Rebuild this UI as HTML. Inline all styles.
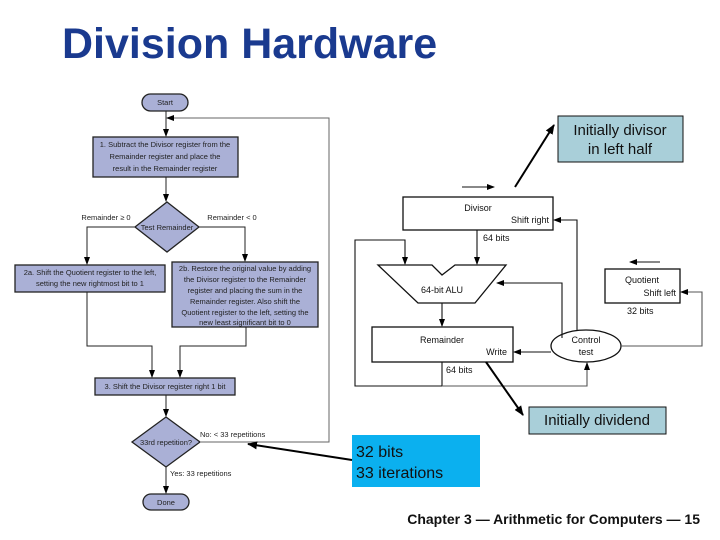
<!DOCTYPE html>
<html><head><meta charset="utf-8"><style>
body{margin:0;background:#fff;}
svg{display:block;}
</style></head><body>
<svg width="720" height="540" xmlns="http://www.w3.org/2000/svg" font-family="Liberation Sans, sans-serif">
<defs>
<marker id="a" markerWidth="8" markerHeight="8" refX="7" refY="4" orient="auto" markerUnits="userSpaceOnUse"><path d="M0,1 L8,4 L0,7 z" fill="#000"/></marker>
<marker id="b" markerWidth="10" markerHeight="10" refX="9" refY="5" orient="auto" markerUnits="userSpaceOnUse"><path d="M0,1 L10,5 L0,9 z" fill="#000"/></marker>
</defs>
<text x="62" y="58" font-size="43" font-weight="bold" fill="#1a3a8f">Division Hardware</text>

<!-- Flowchart -->
<g stroke="#222" stroke-width="1.3" fill="#aab0d6">
<rect x="142" y="94" width="46" height="17" rx="8.5"/>
<rect x="93" y="137" width="145" height="40"/>
<polygon points="167,202 199,227 167,252 135,227"/>
<rect x="15" y="265" width="150" height="27"/>
<rect x="172" y="262" width="146" height="65"/>
<rect x="95" y="378" width="140" height="17"/>
<polygon points="166,417 200,442 166,467 132,442"/>
<rect x="143" y="494" width="46" height="16" rx="8"/>
</g>
<g stroke="#222" stroke-width="1" fill="none">
<line x1="166" y1="111" x2="166" y2="136" marker-end="url(#a)"/>
<line x1="166" y1="177" x2="166" y2="201" marker-end="url(#a)"/>
<polyline points="135,227 87,227 87,264" marker-end="url(#a)"/>
<polyline points="199,227 245,227 245,261" marker-end="url(#a)"/>
<polyline points="87,292 87,346 152,346 152,377" marker-end="url(#a)"/>
<polyline points="246,327 246,346 180,346 180,377" marker-end="url(#a)"/>
<line x1="166" y1="395" x2="166" y2="416" marker-end="url(#a)"/>
<line x1="166" y1="467" x2="166" y2="493" marker-end="url(#a)"/>
<polyline points="200,442 329,442 329,118 167,118" stroke="#666" marker-end="url(#a)"/>
</g>
<g font-size="7.5" fill="#222" text-anchor="middle">
<text x="165" y="105">Start</text>
<text x="165" y="147">1.  Subtract the Divisor register from the</text>
<text x="165" y="159">Remainder register and place the</text>
<text x="165" y="171">result in the Remainder register</text>
<text x="167" y="230">Test Remainder</text>
<text x="106" y="220">Remainder ≥ 0</text>
<text x="232" y="220">Remainder &lt; 0</text>
<text x="90" y="275">2a.  Shift the Quotient register to the left,</text>
<text x="90" y="286">setting the new rightmost bit to 1</text>
<text x="245" y="271">2b.  Restore the original value by adding</text>
<text x="245" y="282">the Divisor register to the Remainder</text>
<text x="245" y="293">register and placing the sum in the</text>
<text x="245" y="304">Remainder register. Also shift the</text>
<text x="245" y="315">Quotient register to the left, setting the</text>
<text x="245" y="325">new least significant bit to 0</text>
<text x="165" y="389">3.  Shift the Divisor register right 1 bit</text>
<text x="166" y="445">33rd repetition?</text>
<text x="166" y="505">Done</text>
</g>
<g font-size="7.5" fill="#222">
<text x="200" y="437">No: &lt; 33 repetitions</text>
<text x="170" y="476">Yes: 33 repetitions</text>
</g>

<!-- Hardware -->
<g stroke="#111" stroke-width="1.3" fill="#fff">
<rect x="403" y="197" width="150" height="33"/>
<polygon points="378,265 432,265 442,275 455,265 506,265 475,303 418,303"/>
<rect x="372" y="327" width="141" height="35"/>
<ellipse cx="586" cy="346" rx="35" ry="16"/>
<rect x="605" y="269" width="75" height="34"/>
</g>
<g stroke="#111" stroke-width="1.1" fill="none">
<polyline points="442,362 442,386 355,386 355,240 405,240 405,264" marker-end="url(#a)"/>
<line x1="477" y1="230" x2="477" y2="264" marker-end="url(#a)"/>
<line x1="442" y1="303" x2="442" y2="326" marker-end="url(#a)"/>
<polyline points="442,386 587,386 587,363" stroke="#555" marker-end="url(#a)"/>
<polyline points="577,330 577,220 554,220" marker-end="url(#a)"/>
<polyline points="562,338 562,283 497,283" marker-end="url(#a)"/>
<line x1="551" y1="352" x2="514" y2="352" marker-end="url(#a)"/>
<polyline points="621,346 702,346 702,292 681,292" stroke="#555" marker-end="url(#a)"/>
<line x1="462" y1="187" x2="494" y2="187" marker-end="url(#a)"/>
<line x1="660" y1="262" x2="630" y2="262" marker-end="url(#a)"/>
</g>
<g font-size="9" fill="#111">
<text x="478" y="211" text-anchor="middle">Divisor</text>
<text x="549" y="223" text-anchor="end">Shift right</text>
<text x="483" y="241">64 bits</text>
<text x="442" y="293" text-anchor="middle">64-bit ALU</text>
<text x="442" y="343" text-anchor="middle">Remainder</text>
<text x="507" y="355" text-anchor="end">Write</text>
<text x="446" y="373">64 bits</text>
<text x="586" y="343" text-anchor="middle">Control</text>
<text x="586" y="355" text-anchor="middle">test</text>
<text x="642" y="283" text-anchor="middle">Quotient</text>
<text x="676" y="296" text-anchor="end">Shift left</text>
<text x="627" y="314">32 bits</text>
</g>

<!-- Callouts -->
<rect x="558" y="116" width="125" height="46" fill="#a9cfd9" stroke="#111"/>
<text x="620" y="135" font-size="15" text-anchor="middle" fill="#111">Initially divisor</text>
<text x="620" y="154" font-size="15" text-anchor="middle" fill="#111">in left half</text>
<line x1="515" y1="187" x2="554" y2="125" stroke="#000" stroke-width="2" marker-end="url(#b)"/>
<rect x="529" y="407" width="137" height="27" fill="#a9cfd9" stroke="#111"/>
<text x="597" y="425" font-size="15" text-anchor="middle" fill="#111">Initially dividend</text>
<line x1="486" y1="362" x2="523" y2="415" stroke="#000" stroke-width="2" marker-end="url(#b)"/>
<rect x="352" y="435" width="128" height="52" fill="#0bb0ef"/>
<text x="356" y="457" font-size="16" fill="#111">32 bits</text>
<text x="356" y="478" font-size="16" fill="#111">33 iterations</text>
<line x1="352" y1="460" x2="248" y2="444" stroke="#000" stroke-width="2" marker-end="url(#b)"/>

<text x="700" y="524" font-size="14" font-weight="bold" text-anchor="end" fill="#111">Chapter 3 — Arithmetic for Computers — 15</text>
</svg>
</body></html>
